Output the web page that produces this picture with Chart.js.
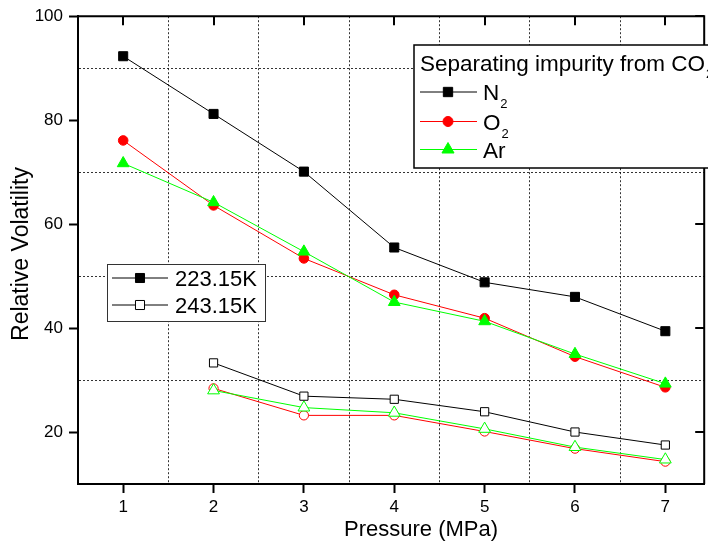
<!DOCTYPE html>
<html><head><meta charset="utf-8">
<script src="https://cdn.jsdelivr.net/npm/chart.js@4.4.0/dist/chart.umd.min.js"></script>
<style>
html,body{margin:0;padding:0;background:#fff;overflow:hidden;}
#wrap{width:712px;height:546px;position:relative;}
</style></head><body>
<div id="wrap"><canvas id="c" width="712" height="546"></canvas></div>
<script>
// ---- data ----
const pressure223 = [1, 2, 3, 4, 5, 6, 7];
const pressure243 = [2, 3, 4, 5, 6, 7];
const n2_223 = [92.3, 81.2, 70.1, 55.5, 48.8, 46.0, 39.4];
const o2_223 = [76.1, 63.6, 53.4, 46.4, 41.9, 34.5, 28.6];
const ar_223 = [71.7, 64.2, 54.7, 45.0, 41.3, 35.0, 29.3];
const n2_243 = [33.3, 26.9, 26.3, 23.9, 20.0, 17.5];
const o2_243 = [28.4, 23.2, 23.2, 20.1, 16.8, 14.3];
const ar_243 = [28.0, 24.7, 23.7, 20.6, 17.1, 14.7];
const yTickLabels = [20, 40, 60, 80, 100];
const xTickLabels = [1, 2, 3, 4, 5, 6, 7];
const yGridValues = [30, 50, 70, 90];
const xGridValues = [1.5, 2.5, 3.5, 4.5, 5.5, 6.5];
const xTitle = 'Pressure (MPa)';
const yTitle = 'Relative Volatility';
const legendTitle = ['Separating impurity from CO', '2'];
const legendSpecies = [['N', '2'], ['O', '2'], ['Ar', '']];
const legendTemps = ['223.15K', '243.15K'];

const FONT = '"Liberation Sans", Arial, sans-serif';
const BLACK = '#000000', RED = '#ff0000', GREEN = '#00ff00';

const pts = (xs, ys) => xs.map((x, i) => ({x: x, y: ys[i]}));

function ds(label, xs, ys, color, style, radius, filled, order) {
  return {
    label: label, data: pts(xs, ys), borderColor: color, borderWidth: 1,
    pointStyle: style, pointRadius: radius, pointHoverRadius: radius,
    pointBackgroundColor: filled ? color : '#ffffff', pointBorderColor: color,
    pointBorderWidth: 1, fill: false, tension: 0, order: order
  };
}

function marker(ctx, style, x, y, r, color, filled) {
  ctx.save();
  ctx.fillStyle = filled ? color : '#ffffff';
  ctx.strokeStyle = color; ctx.lineWidth = 1;
  ctx.beginPath();
  if (style === 'rect') {
    const s = r * Math.SQRT1_2;
    ctx.rect(x - s, y - s, 2 * s, 2 * s);
  } else if (style === 'circle') {
    ctx.arc(x, y, r, 0, Math.PI * 2);
  } else {
    for (let k = 0; k < 3; k++) {
      const a = k * 2 * Math.PI / 3;
      const px = x + Math.sin(a) * r, py = y - Math.cos(a) * r;
      if (k === 0) ctx.moveTo(px, py); else ctx.lineTo(px, py);
    }
    ctx.closePath();
  }
  ctx.fill(); ctx.stroke();
  ctx.restore();
}

function subText(ctx, x, y, main, sub, size, subSize, dy) {
  ctx.font = size + 'px ' + FONT;
  ctx.textAlign = 'left'; ctx.textBaseline = 'alphabetic';
  ctx.fillText(main, x, y);
  if (sub) {
    const w = ctx.measureText(main).width;
    ctx.font = subSize + 'px ' + FONT;
    ctx.fillText(sub, x + w + 1, y + dy);
  }
}

const decor = {
  id: 'decor',
  afterDraw(chart) {
    const ctx = chart.ctx, a = chart.chartArea;
    const xs = chart.scales.x, ys = chart.scales.y;
    ctx.save();
    // top and right frame lines
    ctx.strokeStyle = BLACK; ctx.lineWidth = 2;
    ctx.beginPath();
    ctx.moveTo(a.left, a.top); ctx.lineTo(a.right, a.top); ctx.lineTo(a.right, a.bottom);
    ctx.stroke();
    // inward ticks on top and right
    ctx.beginPath();
    xTickLabels.forEach(v => { const px = Math.round(xs.getPixelForValue(v)); ctx.moveTo(px, a.top); ctx.lineTo(px, a.top + 9); });
    yTickLabels.forEach(v => { const py = Math.round(ys.getPixelForValue(v)); ctx.moveTo(a.right, py); ctx.lineTo(a.right - 9, py); });
    ctx.stroke();

    ctx.fillStyle = BLACK;
    // axis titles
    ctx.textAlign = 'center'; ctx.textBaseline = 'middle';
    ctx.font = '22px ' + FONT;
    ctx.fillText(xTitle, 421, 530);
    ctx.font = '23px ' + FONT;
    ctx.save(); ctx.translate(22, 254); ctx.rotate(-Math.PI / 2);
    ctx.fillText(yTitle, 0, 0); ctx.restore();

    // legend 1 (species)
    ctx.fillStyle = '#ffffff'; ctx.fillRect(414, 45, 400, 123);
    ctx.strokeStyle = BLACK; ctx.lineWidth = 1.5; ctx.strokeRect(414, 45, 400, 123);
    ctx.fillStyle = BLACK;
    subText(ctx, 420, 71, legendTitle[0], legendTitle[1], 22.5, 13, 7);
    const rows = [
      {y: 92, c: BLACK, s: 'rect', r: 6.6},
      {y: 121.5, c: RED, s: 'circle', r: 5},
      {y: 149.5, c: GREEN, s: 'triangle', r: 7}
    ];
    rows.forEach((row, i) => {
      ctx.strokeStyle = row.c; ctx.lineWidth = 1;
      ctx.beginPath(); ctx.moveTo(420, row.y); ctx.lineTo(477, row.y); ctx.stroke();
      marker(ctx, row.s, 448, row.y, row.r, row.c, true);
      ctx.fillStyle = BLACK;
      subText(ctx, 483, row.y + 8, legendSpecies[i][0], legendSpecies[i][1], 22.5, 13, 8);
    });

    // legend 2 (temperatures)
    ctx.fillStyle = '#ffffff'; ctx.fillRect(107, 264, 159, 58);
    ctx.strokeStyle = '#333333'; ctx.lineWidth = 1; ctx.strokeRect(107.5, 264.5, 158, 57);
    [[278, true], [305, false]].forEach((row, i) => {
      ctx.strokeStyle = BLACK; ctx.lineWidth = 1;
      ctx.beginPath(); ctx.moveTo(112, row[0]); ctx.lineTo(168, row[0]); ctx.stroke();
      marker(ctx, 'rect', 140, row[0], 6.4, BLACK, row[1]);
      ctx.fillStyle = BLACK;
      subText(ctx, 175, row[0] + 8, legendTemps[i], '', 22, 13, 0);
    });
    ctx.restore();
  }
};

new Chart(document.getElementById('c'), {
  type: 'line',
  data: {
    datasets: [
      ds('N2 223.15K', pressure223, n2_223, BLACK, 'rect', 6.4, true, 1),
      ds('Ar 223.15K', pressure223, ar_223, GREEN, 'triangle', 6.8, true, 2),
      ds('O2 223.15K', pressure223, o2_223, RED, 'circle', 4.8, true, 3),
      ds('N2 243.15K', pressure243, n2_243, BLACK, 'rect', 5.8, false, 4),
      ds('Ar 243.15K', pressure243, ar_243, GREEN, 'triangle', 6.8, false, 5),
      ds('O2 243.15K', pressure243, o2_243, RED, 'circle', 4.6, false, 6)
    ]
  },
  options: {
    responsive: false, animation: false, devicePixelRatio: 1,
    layout: {padding: {top: 14, right: 3, left: 0, bottom: 0}},
    plugins: {legend: {display: false}, tooltip: {enabled: false}},
    events: [],
    scales: {
      x: {
        type: 'linear', min: 0.5, max: 7.43,
        afterFit: s => { s.height = 62; },
        ticks: {
          stepSize: 0.5, includeBounds: false, autoSkip: false, maxRotation: 0,
          color: BLACK, font: {family: FONT, size: 17}, padding: 4,
          callback: v => xTickLabels.includes(v) ? String(v) : ''
        },
        grid: {
          color: c => xGridValues.includes(c.tick && c.tick.value) ? 'rgba(0,0,0,0.8)' : 'rgba(0,0,0,0)',
          tickColor: c => xTickLabels.includes(c.tick && c.tick.value) ? BLACK : 'rgba(0,0,0,0)',
          lineWidth: 1, tickWidth: 2, tickLength: 9
        },
        border: {display: true, color: BLACK, width: 2, dash: [2, 2]}
      },
      y: {
        type: 'linear', min: 10, max: 100,
        afterFit: s => { s.width = 78; },
        ticks: {
          stepSize: 10, autoSkip: false,
          color: BLACK, font: {family: FONT, size: 17}, padding: 6,
          callback: v => yTickLabels.includes(v) ? String(v) : ''
        },
        grid: {
          color: c => yGridValues.includes(c.tick && c.tick.value) ? 'rgba(0,0,0,0.8)' : 'rgba(0,0,0,0)',
          tickColor: c => yTickLabels.includes(c.tick && c.tick.value) ? BLACK : 'rgba(0,0,0,0)',
          lineWidth: 1, tickWidth: 2, tickLength: 9
        },
        border: {display: true, color: BLACK, width: 2, dash: [2, 2]}
      }
    }
  },
  plugins: [decor]
});
</script>
</body></html>
